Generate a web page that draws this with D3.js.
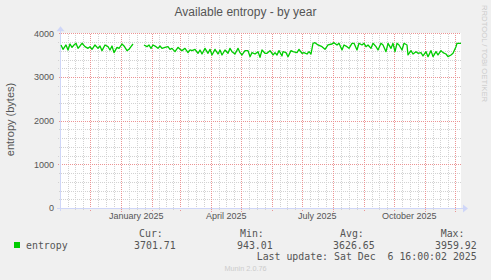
<!DOCTYPE html>
<html>
<head>
<meta charset="utf-8">
<script src="https://cdn.jsdelivr.net/npm/d3@7"></script>
<style>
  body { margin: 0; background: #f0f0f0; }
  svg { display: block; }
</style>
</head>
<body>
<div id="chart"></div>
<script>
const title = "Available entropy - by year";
const yLabel = "entropy (bytes)";
const startDate = new Date(2024, 9, 31, 16, 0);
const endDate = new Date(2025, 11, 6, 16, 0);

// days since startDate, and the plotted entropy (null = no data)
const dayOffsets = [
    1, 3, 6, 8, 10, 12, 14, 16, 18, 20, 22, 25, 28, 30, 32, 35, 38, 40, 42, 45,
    48, 50, 52, 54, 57, 59, 62, 64, 67, 69, 71, 73, 78, 84, 87, 89, 91, 93, 96, 98,
    100, 102, 105, 108, 110, 112, 115, 118, 120, 122, 125, 128, 130, 132, 135, 138, 140, 142, 145, 148,
    150, 152, 155, 158, 160, 162, 165, 168, 170, 172, 175, 178, 180, 182, 185, 188, 190, 192, 195, 198,
    200, 202, 205, 207, 210, 213, 215, 217, 219, 222, 223, 226, 228, 231, 233, 237, 239, 242, 244, 247,
    249, 251, 253, 255, 258, 262, 265, 268, 272, 274, 277, 279, 282, 284, 287, 289, 292, 294, 297, 299,
    302, 304, 306, 308, 311, 313, 316, 318, 321, 323, 326, 328, 331, 333, 335, 337, 339, 342, 344, 347,
    348, 351, 353, 356, 358, 361, 363, 366, 368, 371, 373, 376, 378, 381, 383, 386, 388, 391, 393, 396,
    397, 400, 401
];
const entropyValues = [
    3733, 3633, 3733, 3618, 3755, 3679, 3733, 3771, 3656, 3710, 3771, 3694, 3656, 3694, 3633, 3733, 3656, 3710, 3603, 3733,
    3694, 3618, 3710, 3557, 3679, 3656, 3755, 3710, 3603, 3633, 3694, 3755, null, 3733, 3694, 3733, 3656, 3733, 3694, 3656,
    3710, 3656, 3679, 3694, 3633, 3656, 3580, 3679, 3633, 3603, 3656, 3557, 3618, 3603, 3633, 3542, 3618, 3526, 3656, 3542,
    3633, 3504, 3633, 3526, 3618, 3504, 3618, 3542, 3656, 3580, 3526, 3656, 3557, 3504, 3603, 3603, 3465, 3557, 3526, 3580,
    3450, 3618, 3542, 3542, 3603, 3504, 3557, 3504, 3603, 3481, 3580, 3557, 3465, 3603, 3580, 3557, 3633, 3542, 3557, 3526,
    3580, 3526, 3771, 3786, 3733, 3694, 3633, 3733, 3755, 3786, 3733, 3771, 3618, 3733, 3694, 3656, 3771, 3771, 3618, 3771,
    3733, 3771, 3694, 3733, 3656, 3771, 3694, 3618, 3771, 3733, 3580, 3771, 3656, 3771, 3580, 3771, 3733, 3618, 3771, 3733,
    3504, 3603, 3526, 3580, 3542, 3557, 3481, 3580, 3465, 3603, 3465, 3580, 3504, 3603, 3557, 3526, 3465, 3504, 3542, 3694,
    3771, 3771, 3771
];

const yTicks = [0, 1000, 2000, 3000, 4000];
const yMinorStep = 200;
const monthLabels = ["January 2025", "April 2025", "July 2025", "October 2025"];
const legendName = "entropy";
const legendHeads = ["Cur:", "Min:", "Avg:", "Max:"];
const legendValues = [3701.71, 943.01, 3626.65, 3959.92];
const lastUpdate = "Last update: Sat Dec  6 16:00:02 2025";
const watermark = "RRDTOOL / TOBI OETIKER";
const footer = "Munin 2.0.76";

const width = 491, height = 280;
const plotLeft = 60, plotRight = 461, plotTop = 33.3, plotBottom = 208;
const lineColor = "#00cc00";
const textColor = "#555";
const axisColor = "#cfd6f8";
const minorColor = "#d2d2d2";
const majorColor = "#eb9494";

const data = dayOffsets.map((d, i) => ({
    date: d3.timeDay.offset(startDate, d),
    value: entropyValues[i]
}));

const x = d3.scaleTime().domain([startDate, endDate]).range([plotLeft, plotRight]);
const y = d3.scaleLinear().domain([0, 4000]).range([plotBottom, plotTop]);

const svg = d3.select("#chart").append("svg")
    .attr("width", width)
    .attr("height", height)
    .style("font-family", "'Liberation Sans', Arial, sans-serif");

// 1px dotted fill (checkerboard) so every grid row/column gets every other pixel
const defs = svg.append("defs");
function dotPattern(id, color) {
    const p = defs.append("pattern").attr("id", id)
        .attr("patternUnits", "userSpaceOnUse")
        .attr("width", 2).attr("height", 2);
    p.append("rect").attr("x", 0).attr("y", 0).attr("width", 1).attr("height", 1).attr("fill", color);
    p.append("rect").attr("x", 1).attr("y", 1).attr("width", 1).attr("height", 1).attr("fill", color);
}
dotPattern("minorDots", minorColor);
dotPattern("majorDots", majorColor);

svg.append("rect").attr("width", width).attr("height", height).attr("fill", "#f0f0f0");
svg.append("rect")
    .attr("x", plotLeft).attr("y", Math.round(plotTop))
    .attr("width", plotRight - plotLeft).attr("height", plotBottom - Math.round(plotTop))
    .attr("fill", "#fff");

const grid = svg.append("g").attr("shape-rendering", "crispEdges");

// horizontal grid
const yMinor = d3.range(0, 4001, yMinorStep).filter(v => !yTicks.includes(v));
grid.selectAll(".hminor").data(yMinor).enter().append("rect")
    .attr("x", plotLeft - 2).attr("width", plotRight - plotLeft + 2)
    .attr("y", d => Math.round(y(d))).attr("height", 1)
    .attr("fill", "url(#minorDots)");

// vertical grid: month lines, with quarter-month minor lines
const months = d3.timeMonth.range(d3.timeMonth.floor(startDate), endDate);
const minorDates = [];
months.forEach(m => {
    const next = d3.timeMonth.offset(m, 1);
    for (let k = 1; k < 4; k++) {
        const t = new Date(+m + (next - m) * k / 4);
        if (t > startDate && t < endDate) minorDates.push(t);
    }
});
const majorDates = months.filter(m => x(m) > plotLeft + 1.5);

grid.selectAll(".vminor").data(minorDates).enter().append("rect")
    .attr("x", d => Math.round(x(d))).attr("width", 1)
    .attr("y", Math.round(plotTop)).attr("height", plotBottom - Math.round(plotTop) + 2)
    .attr("fill", "url(#minorDots)");
grid.selectAll(".hmajor").data(yTicks.filter(v => v > 0)).enter().append("rect")
    .attr("x", plotLeft - 2).attr("width", plotRight - plotLeft + 2)
    .attr("y", d => Math.round(y(d))).attr("height", 1)
    .attr("fill", "url(#majorDots)");
grid.selectAll(".vmajor").data(majorDates).enter().append("rect")
    .attr("x", d => Math.round(x(d))).attr("width", 1)
    .attr("y", Math.round(plotTop)).attr("height", plotBottom - Math.round(plotTop) + 4)
    .attr("fill", "url(#majorDots)");

// axes
grid.append("line")
    .attr("x1", plotLeft - 3).attr("x2", plotRight + 3)
    .attr("y1", plotBottom + 0.5).attr("y2", plotBottom + 0.5)
    .attr("stroke", axisColor);
grid.append("line")
    .attr("x1", plotLeft + 0.5).attr("x2", plotLeft + 0.5)
    .attr("y1", plotBottom + 3).attr("y2", plotTop - 3)
    .attr("stroke", axisColor);
svg.append("path")
    .attr("d", `M${plotRight + 2},${plotBottom - 3.5} L${plotRight + 7},${plotBottom + 0.5} L${plotRight + 2},${plotBottom + 4.5}Z`)
    .attr("fill", axisColor);
svg.append("path")
    .attr("d", `M${plotLeft - 3.5},${plotTop - 2} L${plotLeft + 0.5},${plotTop - 7} L${plotLeft + 4.5},${plotTop - 2}Z`)
    .attr("fill", axisColor);

// data line
const line = d3.line()
    .defined(d => d.value != null)
    .x(d => x(d.date))
    .y(d => y(d.value));
svg.append("path")
    .datum(data)
    .attr("d", line)
    .attr("fill", "none")
    .attr("stroke", lineColor)
    .attr("stroke-width", 1.3)
    .attr("stroke-linejoin", "round");

// y tick labels
svg.selectAll(".ylab").data(yTicks).enter().append("text")
    .attr("x", 54).attr("y", d => y(d) + 3.3)
    .attr("text-anchor", "end")
    .attr("font-size", 9)
    .attr("fill", textColor)
    .text(d => d);

// x labels, centred in their month
const parseMonth = d3.timeParse("%B %Y");
svg.selectAll(".xlab").data(monthLabels).enter().append("text")
    .attr("x", d => x(d3.timeDay.offset(parseMonth(d), 15)))
    .attr("y", 218.5)
    .attr("text-anchor", "middle")
    .attr("font-size", 9)
    .attr("fill", textColor)
    .text(d => d);

svg.append("text")
    .attr("x", width / 2).attr("y", 16)
    .attr("text-anchor", "middle")
    .attr("font-size", 12)
    .attr("fill", textColor)
    .text(title);

svg.append("text")
    .attr("transform", "translate(13.5,119.5) rotate(-90)")
    .attr("text-anchor", "middle")
    .attr("font-size", 11)
    .attr("fill", textColor)
    .text(yLabel);

svg.append("text")
    .attr("transform", "translate(482,5) rotate(90)")
    .attr("font-size", 7.7)
    .attr("fill", "#cccccc")
    .text(watermark);

// legend
const legend = svg.append("g")
    .style("font-family", "'DejaVu Sans Mono', monospace")
    .attr("font-size", 9.9)
    .attr("fill", textColor);
const headX = [139, 240, 340, 440.7];
const valEnd = [175.7, 272.7, 374.7, 476.7];
legend.selectAll(".head").data(legendHeads).enter().append("text")
    .attr("x", (d, i) => headX[i]).attr("y", 237)
    .text(d => d);
legend.selectAll(".val").data(legendValues).enter().append("text")
    .attr("x", (d, i) => valEnd[i]).attr("y", 248.5)
    .attr("text-anchor", "end")
    .text(d => d.toFixed(2));
svg.append("rect")
    .attr("x", 14).attr("y", 242).attr("width", 6).attr("height", 6)
    .attr("fill", lineColor);
legend.append("text").attr("x", 26).attr("y", 248.5).text(legendName);
legend.append("text")
    .attr("x", 476.7).attr("y", 260)
    .attr("text-anchor", "end")
    .style("white-space", "pre")
    .text(lastUpdate);

svg.append("text")
    .attr("x", width / 2).attr("y", 271)
    .attr("text-anchor", "middle")
    .attr("font-size", 7.3)
    .attr("fill", "#cccccc")
    .text(footer);
</script>
</body>
</html>
